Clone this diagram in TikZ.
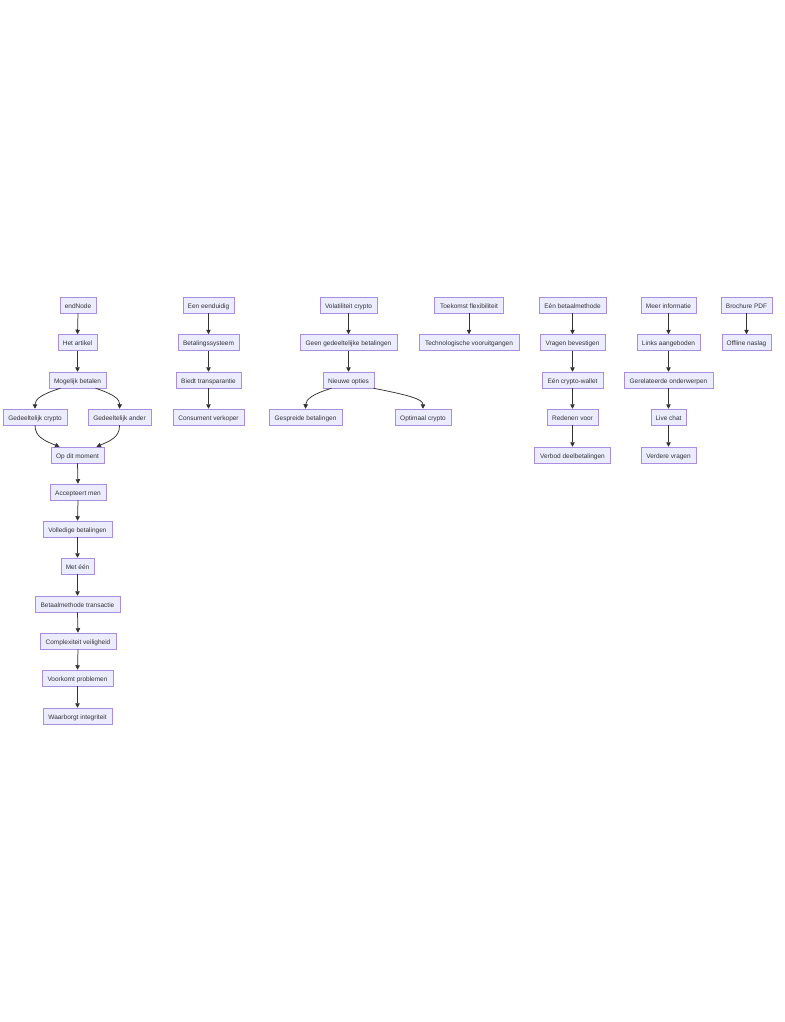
\documentclass[tikz,border=0pt]{standalone}
\usepackage{fontspec}
\setmainfont{Liberation Sans}
\usetikzlibrary{arrows.meta}
\definecolor{nodefill}{HTML}{ECECFF}
\definecolor{nodeborder}{HTML}{9370DB}
\definecolor{txt}{HTML}{333333}
\definecolor{edgecol}{HTML}{333333}
\tikzset{
  box/.style={draw=nodeborder!80, fill=nodefill, line width=0.5pt, minimum height=16pt, inner sep=0pt, text height=7pt, text depth=1pt, text=txt, font=\fontsize{6.5}{7}\selectfont},
  link/.style={draw=edgecol, line width=0.75pt, -{Triangle[length=4.5pt,width=4.5pt]}},
}
\begin{document}
\begin{tikzpicture}[x=1pt,y=-1pt]
\useasboundingbox[fill=white] (0,0) rectangle (784,1022);
% column 1
\node[box,minimum width=36] (n1) at (78,305) {endNode};
\node[box,minimum width=39] (n2) at (77.5,342.5) {Het artikel};
\node[box,minimum width=57] (n3) at (77.5,380) {Mogelijk betalen};
\node[box,minimum width=64] (n4a) at (35,417) {Gedeeltelijk crypto};
\node[box,minimum width=63] (n4b) at (119.5,417) {Gedeeltelijk ander};
\node[box,minimum width=53] (n5) at (77.5,455) {Op dit moment};
\node[box,minimum width=56] (n6) at (78,492) {Accepteert men};
\node[box,minimum width=69] (n7) at (77.5,529) {Volledige betalingen};
\node[box,minimum width=33] (n8) at (77.5,566) {Met één};
\node[box,minimum width=85] (n9) at (77.5,604) {Betaalmethode transactie};
\node[box,minimum width=76] (n10) at (78,641) {Complexiteit veiligheid};
\node[box,minimum width=71] (n11) at (77.5,678) {Voorkomt problemen};
\node[box,minimum width=69] (n12) at (77.5,716) {Waarborgt integriteit};
% column 2
\node[box,minimum width=51] (b1) at (208.5,305) {Een eenduidig};
\node[box,minimum width=61] (b2) at (208.5,342.5) {Betalingssysteem};
\node[box,minimum width=65] (b3) at (208.5,380) {Biedt transparantie};
\node[box,minimum width=71] (b4) at (208.5,417) {Consument verkoper};
% column 3
\node[box,minimum width=57] (c1) at (348.5,305) {Volatiliteit crypto};
\node[box,minimum width=97] (c2) at (348.5,342.5) {Geen gedeeltelijke betalingen};
\node[box,minimum width=51] (c3) at (348.5,380) {Nieuwe opties};
\node[box,minimum width=73] (c4a) at (305.5,417) {Gespreide betalingen};
\node[box,minimum width=56] (c4b) at (423,417) {Optimaal crypto};
% column 4
\node[box,minimum width=69] (d1) at (469,305) {Toekomst flexibiliteit};
\node[box,minimum width=100] (d2) at (469,342.5) {Technologische vooruitgangen};
% column 5
\node[box,minimum width=67] (e1) at (572.5,305) {Eén betaalmethode};
\node[box,minimum width=65] (e2) at (572.5,342.5) {Vragen bevestigen};
\node[box,minimum width=61] (e3) at (572.5,380) {Eén crypto-wallet};
\node[box,minimum width=51] (e4) at (572.5,417) {Redenen voor};
\node[box,minimum width=76] (e5) at (572.5,455) {Verbod deelbetalingen};
% column 6
\node[box,minimum width=55] (f1) at (668.5,305) {Meer informatie};
\node[box,minimum width=63] (f2) at (668.5,342.5) {Links aangeboden};
\node[box,minimum width=89] (f3) at (668.5,380) {Gerelateerde onderwerpen};
\node[box,minimum width=35] (f4) at (668.5,417) {Live chat};
\node[box,minimum width=55] (f5) at (668.5,455) {Verdere vragen};
% column 7
\node[box,minimum width=51] (g1) at (746.5,305) {Brochure PDF};
\node[box,minimum width=49] (g2) at (746.5,342.5) {Offline naslag};
% straight edges
\foreach \a/\b in {n1/n2,n2/n3,n5/n6,n6/n7,n7/n8,n8/n9,n9/n10,n10/n11,n11/n12,
  b1/b2,b2/b3,b3/b4,c1/c2,c2/c3,d1/d2,e1/e2,e2/e3,e3/e4,e4/e5,
  f1/f2,f2/f3,f3/f4,f4/f5,g1/g2}
  \draw[link] (\a.south) -- (\b.north);
% curved edges
\draw[link] ([xshift=-17pt]n3.south) .. controls (42,394) and (35,399) .. (n4a.north);
\draw[link] ([xshift=18pt]n3.south) .. controls (113,394) and (120,399) .. (n4b.north);
\draw[link] (n4a.south) .. controls (35,437) and (45,441) .. ([xshift=-18pt]n5.north);
\draw[link] (n4b.south) .. controls (120,437) and (110,441) .. ([xshift=19pt]n5.north);
\draw[link] ([xshift=-17pt]c3.south) .. controls (313,394) and (306,399) .. (c4a.north);
\draw[link] ([xshift=25pt]c3.south) .. controls (408,395) and (423,399) .. (c4b.north);
\end{tikzpicture}
\end{document}
